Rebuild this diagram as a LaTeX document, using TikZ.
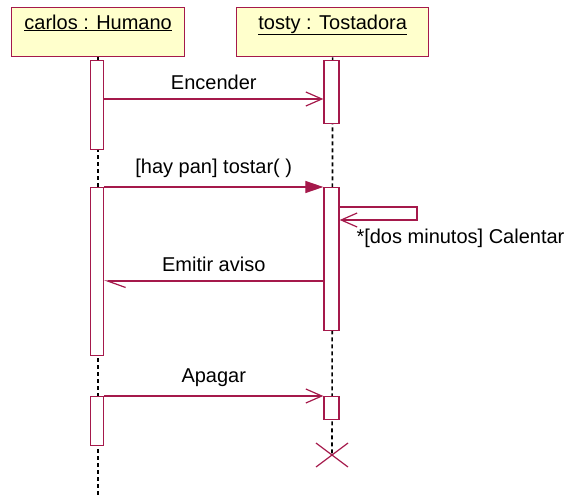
\documentclass[tikz,border=0pt]{standalone}
\usepackage{fontspec}
\setmainfont{Liberation Sans}
\usetikzlibrary{arrows.meta}
\definecolor{umlred}{RGB}{165,25,75}
\definecolor{umlyellow}{RGB}{255,255,204}
\tikzstyle{obj} = [draw=umlred,fill=umlyellow,line width=1.3pt,minimum width=173pt,minimum height=49pt,anchor=north west,inner sep=0pt]
\tikzstyle{act} = [draw=umlred,fill=white,line width=1.3pt,minimum width=13pt,anchor=north,inner sep=0pt]
\tikzstyle{life} = [black,line width=1.6pt,dash pattern=on 4pt off 3pt]
\tikzstyle{msg} = [umlred,line width=1.2pt,-{Straight Barb[length=16pt,width=14pt]}]
\tikzstyle{call} = [umlred,line width=1.2pt,-{Triangle[length=18pt,width=12pt]}]
\tikzstyle{back} = [umlred,line width=1.2pt,-{Straight Barb[left,length=18pt,width=13pt]}]
\tikzstyle{lbl} = [text=black,above=5pt]

\begin{document}
\begin{tikzpicture}[x=1pt,y=-1pt,font=\fontsize{20}{24}\selectfont]
\useasboundingbox (0,0) rectangle (571,495);
\node [obj](carlos) at (11,7){};
\node [obj,minimum width=192pt](tosty) at (236,7){};
\node [below=4pt] at (carlos.north){\underline{carlos : Humano}};
\node [below=4pt] at (tosty.north){\underline{tosty : Tostadora}};

% lifelines
\coordinate (tend) at (332,455);
\draw[life](carlos.south) -- (carlos.south |- 0,495);
\draw[life](tosty.south) -- (tend);

% activations
\node [act,minimum height=89pt](c1) at (97,60){};
\node [act,minimum height=63pt,minimum width=15pt](t1) at (331.5,60){};
\node [act,minimum height=168pt](c2) at (97,187){};
\node [act,minimum height=143pt,minimum width=15pt](t2) at (331.5,187){};
\node [act,minimum height=49pt](c3) at (97,396){};
\node [act,minimum height=23pt,minimum width=15pt](t3) at (331.5,396){};

% messages
\coordinate (m1) at (0,99);
\coordinate (m2) at (0,207);
\coordinate (m3) at (0,220);
\coordinate (m4) at (0,281);
\draw[msg](c1.east |- m1) -- node[lbl]{Encender} (t1.west |- m1);
\draw[call](c2.north east) -- node[lbl]{[hay pan] tostar( )} (t2.north west);
\draw[msg](t2.east |- m2) -- (417,207) -- (417,220) -- (t2.east |- m3);
\node [anchor=north west] at (353,225){*[dos minutos] Calentar};
\draw[back](t2.west |- m4) -- node[lbl]{Emitir aviso} (c2.east |- m4);
\draw[msg](c3.north east) -- node[lbl]{Apagar} (t3.north west);

% destruction
\draw[umlred,line width=1.2pt](tend) ++(-16,-12) -- ++(32,24) (tend) ++(16,-12) -- ++(-32,24);
\end{tikzpicture}
\end{document}
